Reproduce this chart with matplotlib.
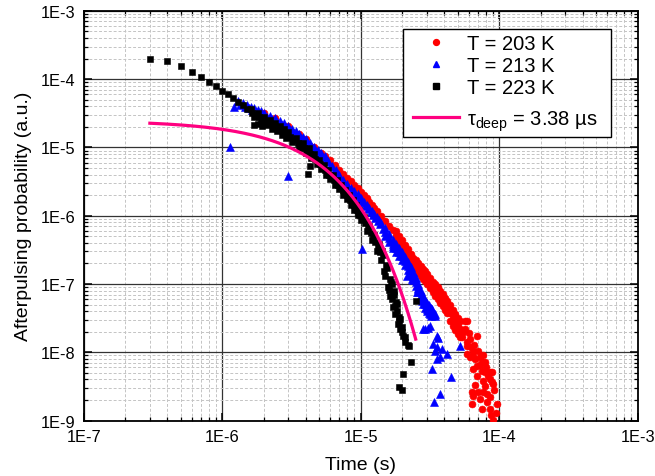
import numpy as np
import matplotlib
matplotlib.use("Agg")
import matplotlib.pyplot as plt
from matplotlib.ticker import LogLocator, FuncFormatter, NullFormatter, FixedLocator
from matplotlib.lines import Line2D
from matplotlib.patches import Rectangle

plt.rcParams['font.family'] = ['Liberation Sans', 'DejaVu Sans']
plt.rcParams['mathtext.fontset'] = 'custom'
plt.rcParams['mathtext.rm'] = 'Liberation Sans'
plt.rcParams['mathtext.it'] = 'Liberation Sans:italic'

# ---- measured afterpulsing histograms (time in microseconds) ----
# T = 203 K : main decay
t203_us = [2.0, 2.4, 3.0, 3.6, 4.0, 4.6, 5.2, 5.5, 6.0, 6.5, 7.0, 7.5, 8.0, 8.5, 9.0, 9.5,
           10, 10.5, 11, 11.5, 12, 12.5, 13, 14, 15, 16, 17]
p203 = [3.22e-5, 2.69e-5, 2.06e-5, 1.56e-5, 1.31e-5, 1.02e-5, 8.17e-6, 7.6e-6, 6.45e-6,
        5.49e-6, 4.72e-6, 4.11e-6, 3.60e-6, 3.18e-6, 2.83e-6, 2.54e-6,
        2.25e-6, 2.0e-6, 1.79e-6, 1.60e-6, 1.44e-6, 1.30e-6, 1.19e-6, 9.93e-7, 8.39e-7,
        7.16e-7, 6.11e-7]
# T = 203 K : late tail (centre / upper / lower spread of the band)
t203_tail_us = [18, 19, 20, 21, 22, 23, 24, 25, 26, 27, 28, 29, 30, 31.5, 33, 34.5, 36,
                37.5, 39, 40.5, 42, 44, 46, 48, 50, 52]
p203_tail_mid = [5.22e-7, 4.41e-7, 3.85e-7, 3.25e-7, 2.84e-7, 2.40e-7, 2.10e-7, 1.90e-7,
                 1.72e-7, 1.55e-7, 1.40e-7, 1.31e-7, 1.18e-7, 1.03e-7, 9.04e-8, 8.17e-8,
                 7.38e-8, 6.45e-8, 5.83e-8, 5.10e-8, 4.61e-8, 3.76e-8, 3.18e-8, 2.78e-8,
                 2.43e-8, 2.19e-8]
p203_tail_hi = [5.97e-7, 5.04e-7, 4.41e-7, 3.72e-7, 3.25e-7, 2.75e-7, 2.40e-7, 2.25e-7,
                2.03e-7, 1.84e-7, 1.66e-7, 1.55e-7, 1.40e-7, 1.22e-7, 1.07e-7, 1.00e-7,
                9.04e-8, 7.90e-8, 7.14e-8, 6.24e-8, 5.64e-8, 4.93e-8, 4.16e-8, 3.64e-8,
                3.18e-8, 2.87e-8]
p203_tail_lo = [4.56e-7, 3.85e-7, 3.37e-7, 2.84e-7, 2.49e-7, 2.10e-7, 1.84e-7, 1.60e-7,
                1.45e-7, 1.31e-7, 1.18e-7, 1.11e-7, 1.00e-7, 8.74e-8, 7.64e-8, 6.67e-8,
                6.03e-8, 5.27e-8, 4.76e-8, 4.16e-8, 3.76e-8, 2.87e-8, 2.43e-8, 2.12e-8,
                1.85e-8, 1.67e-8]
# T = 203 K : scattered counts beyond 50 us
t203_sc_us = [50.6, 55, 56.5, 58.2, 58.2, 61.4, 68.7, 58.2, 58.2, 64.9, 64.9, 72.5, 61.4,
              78.9, 74.6, 68.7, 64.9, 74.6, 85.7, 78.9, 88.1, 76.6, 88.1, 90.5, 63.2, 64.9,
              70.5, 75.9, 81.1, 85.7, 63.2, 74.6, 85.7, 95.8, 90.5,
              54, 57, 60, 62, 66, 70, 67, 72, 76, 80, 83, 86, 79, 69, 92, 95, 87, 82, 73, 67]
p203_sc = [2.75e-8, 1.96e-8, 2.9e-8, 2.9e-8, 1.40e-8, 1.57e-8, 1.75e-8, 1.25e-8, 9.44e-9,
           1.055e-8, 8.92e-9, 8.45e-9, 8.45e-9,
           7.14e-9, 7.14e-9, 6.37e-9, 5.69e-9, 5.38e-9, 5.1e-9, 5.1e-9, 5.1e-9, 3.84e-9,
           3.71e-9, 3.43e-9, 2.6e-9, 2.32e-9,
           2.6e-9, 2.6e-9, 2.45e-9, 2.19e-9, 1.75e-9, 1.48e-9, 1.48e-9, 1.75e-9, 1.03e-9,
           1.7e-8, 2.2e-8, 1.9e-8, 1.2e-8, 1.3e-8, 1.05e-8, 8.0e-9, 6.5e-9, 9.0e-9, 6.0e-9,
           4.5e-9, 4.0e-9, 3.2e-9, 4.5e-9, 2.8e-9, 1.3e-9, 1.2e-9, 1.9e-9, 2.1e-9, 3.3e-9]

# T = 213 K : isolated early counts
t213_iso_us = [1.14, 1.22, 3.0, 10.15]
p213_iso = [1.0e-5, 3.86e-5, 3.85e-6, 3.25e-7]
# T = 213 K : main decay
t213_us = [1.3, 1.4, 1.5, 1.6, 1.7, 1.8, 1.9, 2.0, 2.2, 2.4, 2.6, 2.8, 3.0, 3.2, 3.4, 3.6,
           3.8, 4.0, 4.3, 4.6, 4.9, 5.2, 5.5, 5.8, 6.2, 6.6, 7.0, 7.5, 8.0, 8.5, 9.0, 9.5,
           10, 10.5, 11, 11.5, 12, 12.5, 13, 13.5, 14]
p213 = [4.75e-5, 4.44e-5, 4.18e-5, 3.94e-5, 3.75e-5, 3.56e-5, 3.38e-5, 3.22e-5, 2.93e-5,
        2.69e-5, 2.44e-5, 2.24e-5, 2.06e-5, 1.89e-5, 1.71e-5, 1.56e-5,
        1.42e-5, 1.31e-5, 1.16e-5, 1.02e-5, 9.1e-6, 8.17e-6, 7.38e-6, 6.43e-6, 5.41e-6,
        4.59e-6, 3.94e-6, 3.34e-6, 2.93e-6, 2.58e-6, 2.29e-6, 2.05e-6,
        1.82e-6, 1.61e-6, 1.44e-6, 1.29e-6, 1.17e-6, 1.05e-6, 9.5e-7, 8.56e-7, 7.74e-7]
t213_b_us = [1.35, 1.45, 1.55, 1.65, 1.75, 1.85, 1.95, 2.1, 2.3, 2.5, 2.7, 2.9, 3.1, 3.3,
             3.5, 3.7, 3.9, 4.15, 4.45, 4.75, 5.05, 5.35, 5.65, 6.0, 6.4, 6.8, 7.25, 7.75,
             8.25, 8.75, 9.25, 9.75, 10.25, 10.75, 11.25, 11.75, 12.25, 12.75, 13.25,
             13.75, 14.5]
p213_b = [4.22e-5, 3.96e-5, 3.73e-5, 3.53e-5, 3.36e-5, 3.19e-5, 3.03e-5, 2.82e-5, 2.58e-5,
          2.35e-5, 2.15e-5, 1.97e-5, 1.81e-5, 1.65e-5, 1.50e-5, 1.37e-5, 1.25e-5, 1.13e-5,
          1.00e-5, 8.85e-6, 7.92e-6, 7.14e-6, 6.33e-6, 5.42e-6, 4.58e-6, 3.91e-6, 3.33e-6,
          2.87e-6, 2.53e-6, 2.23e-6, 1.99e-6, 1.78e-6, 1.57e-6, 1.40e-6, 1.25e-6, 1.13e-6,
          1.02e-6, 9.18e-7, 8.29e-7, 7.48e-7, 6.45e-7]
# T = 213 K : late tail band
t213_tail_us = [15, 16, 17, 18, 19, 20, 21, 22, 23, 24, 25, 26, 27, 28, 29, 30, 31, 32]
p213_tail_mid = [5.77e-7, 4.72e-7, 3.85e-7, 3.37e-7, 2.94e-7, 2.57e-7, 2.17e-7, 1.84e-7,
                 1.55e-7, 1.31e-7, 1.07e-7, 8.74e-8, 6.90e-8, 5.83e-8, 5.10e-8, 4.61e-8,
                 4.30e-8, 3.89e-8]
p213_tail_hi = [6.61e-7, 5.40e-7, 4.41e-7, 3.85e-7, 3.37e-7, 2.94e-7, 2.49e-7, 2.10e-7,
                1.77e-7, 1.50e-7, 1.22e-7, 1.00e-7, 7.90e-8, 6.67e-8, 5.83e-8, 5.27e-8,
                4.93e-8, 4.45e-8]
p213_tail_lo = [5.04e-7, 4.12e-7, 3.37e-7, 2.94e-7, 2.57e-7, 2.25e-7, 1.90e-7, 1.60e-7,
                1.35e-7, 1.14e-7, 9.35e-8, 7.64e-8, 6.03e-8, 5.10e-8, 4.45e-8, 4.02e-8,
                3.76e-8, 3.40e-8]
# T = 213 K : scattered counts
t213_sc_us = [17.2, 19.7, 21.45, 22.65, 23.3, 25.3, 26.0, 26.8, 27.5, 29.1, 29.9, 32.5,
              31.6, 34.3, 34.3, 29.1, 28.3, 30.7, 31.6, 35.3, 36.3, 33.4, 35.3, 38.4, 34.3,
              41.7, 37.3, 35.3, 32.5, 44.6, 37.3, 33.8, 52.0]
p213_sc = [3.6e-7, 2.75e-7, 1.31e-7, 1.66e-7, 1.19e-7, 7.6e-8, 8.45e-8, 6.0e-8, 5.7e-8,
           5.45e-8, 4.3e-8, 4.3e-8, 3.64e-8, 3.64e-8, 3.44e-8, 2.2e-8, 2.2e-8, 2.3e-8,
           2.45e-8, 1.75e-8, 1.6e-8, 1.32e-8, 1.18e-8, 1.12e-8, 1.05e-8, 9.4e-9, 8.45e-9,
           8.0e-9, 5.7e-9, 4.3e-9, 2.45e-9, 1.9e-9, 1.25e-8]

# T = 223 K : main decay
t223_us = [0.3, 0.4, 0.5, 0.6, 0.7, 0.8, 0.9, 1.0, 1.1, 1.2, 1.3, 1.4, 1.5,
           1.6, 1.7, 1.8, 1.9, 2.0, 2.1, 2.2, 2.3, 2.4, 2.5, 2.6, 2.7, 2.8, 2.9, 3.0,
           3.2, 3.4, 3.6, 3.8, 4.0, 4.2, 4.4, 4.6, 4.8, 5.0, 5.2, 5.4, 5.6, 5.8, 6.0,
           6.25, 6.5, 6.75, 7.0, 7.25, 7.5, 7.75, 8.0, 8.25, 8.5, 8.75, 9.0, 9.25, 9.5,
           9.75, 10.0, 10.5, 11.0, 11.5, 12.0, 12.5, 13.0, 13.5, 14.0, 14.5, 15.0, 15.5,
           16.0, 16.5, 17.0, 17.5]
p223 = [1.97e-4, 1.82e-4, 1.54e-4, 1.28e-4, 1.07e-4, 9.07e-5, 7.84e-5, 6.76e-5, 5.99e-5,
        5.24e-5, 4.62e-5, 4.11e-5, 3.65e-5,
        3.71e-5, 2.76e-5, 3.24e-5, 2.39e-5, 2.83e-5, 2.11e-5, 2.53e-5, 1.89e-5, 2.28e-5,
        1.71e-5, 2.05e-5, 1.53e-5, 1.85e-5, 1.39e-5, 1.68e-5,
        1.20e-5, 1.37e-5, 9.86e-6, 1.15e-5, 8.42e-6, 9.64e-6, 6.88e-6, 7.93e-6, 5.73e-6,
        6.65e-6, 4.78e-6, 5.53e-6, 4.00e-6, 4.65e-6, 3.39e-6,
        3.93e-6, 2.84e-6, 3.32e-6, 2.42e-6, 2.81e-6, 2.03e-6, 2.37e-6, 1.73e-6, 2.00e-6,
        1.45e-6, 1.69e-6, 1.23e-6, 1.43e-6, 1.04e-6,
        1.21e-6, 8.65e-7, 9.54e-7, 5.99e-7, 7.16e-7, 4.41e-7, 5.22e-7, 3.05e-7, 3.90e-7,
        2.25e-7, 2.62e-7, 1.33e-7, 1.70e-7,
        8.17e-8, 1.08e-7, 4.54e-8, 6.95e-8]
t223_b_us = [1.65, 1.75, 1.85, 1.95, 2.05, 2.15, 2.25, 2.35, 2.45, 2.55, 2.65, 2.75, 2.85,
             2.95, 3.1, 3.3, 3.5, 3.7, 3.9, 4.1, 4.3, 4.5, 4.7, 4.9, 5.1, 5.3, 5.5, 5.7,
             5.9, 6.1, 6.4, 6.6, 6.9, 7.1, 7.4, 7.6, 7.9, 8.1, 8.4, 8.6, 8.9, 9.1, 9.4,
             9.6, 9.9, 10.25, 10.75, 11.25, 11.75, 12.25, 12.75, 13.25, 13.75]
p223_b = [3.23e-5, 2.99e-5, 2.79e-5, 2.60e-5, 2.44e-5, 2.31e-5, 2.19e-5, 2.07e-5, 1.97e-5,
          1.87e-5, 1.77e-5, 1.69e-5, 1.60e-5, 1.53e-5, 1.42e-5, 1.28e-5, 1.16e-5, 1.07e-5,
          9.83e-6, 9.01e-6, 8.14e-6, 7.38e-6, 6.74e-6, 6.17e-6, 5.64e-6, 5.15e-6, 4.70e-6,
          4.32e-6, 3.97e-6, 3.67e-6, 3.31e-6, 3.09e-6, 2.81e-6, 2.62e-6, 2.36e-6, 2.21e-6,
          2.00e-6, 1.87e-6, 1.69e-6, 1.58e-6, 1.43e-6, 1.34e-6, 1.21e-6, 1.13e-6, 1.02e-6,
          9.07e-7, 7.69e-7, 6.54e-7, 5.62e-7, 4.80e-7, 4.06e-7, 3.46e-7, 2.97e-7]
# T = 223 K : isolated counts and late tail
t223_sc_us = [1.70, 1.80, 1.92, 4.18, 4.28,
              14.25, 14.75, 15.25, 15.75, 16.25, 16.75, 17.25, 17.75, 18.25, 18.75, 19.25,
              16.3, 17.7, 18.3, 18.8, 19.2, 19.7, 20.0, 20.3, 20.8, 22.0, 21.0, 22.4, 23.0,
              20.3, 19.0, 19.7, 25.1, 18.0, 17.0, 16.8, 18.5]
p223_sc = [2.13e-5, 2.20e-5, 2.06e-5, 4.08e-6, 5.4e-6,
           3.05e-7, 1.55e-7, 1.90e-7, 9.04e-8, 1.18e-7, 6.03e-8, 7.90e-8, 3.64e-8, 5.10e-8,
           2.87e-8, 2.19e-8,
           6.7e-8, 4.8e-8, 4.0e-8, 3.3e-8, 3.07e-8, 2.32e-8, 1.96e-8, 1.75e-8, 1.40e-8,
           1.28e-8, 1.66e-8, 1.25e-8, 7.1e-9,
           4.8e-9, 3.07e-9, 2.83e-9, 5.7e-8, 5.5e-8, 7.5e-8, 1.0e-7, 2.6e-8]

# single-exponential trap-release fit
tau_deep = 3.38e-6          # s
fit_amp = 2.47e-5
fit_t_start, fit_t_end = 3.0e-7, 2.49e-5

# axis decades
x_ticks = [1e-7, 1e-6, 1e-5, 1e-4, 1e-3]
y_ticks = [1e-9, 1e-8, 1e-7, 1e-6, 1e-5, 1e-4, 1e-3]

t_203 = t203_us + t203_tail_us * 3 + t203_sc_us
p_203 = p203 + p203_tail_mid + p203_tail_hi + p203_tail_lo + p203_sc
t_213 = t213_iso_us + t213_us + t213_b_us + t213_tail_us * 3 + t213_sc_us
p_213 = p213_iso + p213 + p213_b + p213_tail_mid + p213_tail_hi + p213_tail_lo + p213_sc
t_223 = t223_us + t223_b_us + t223_sc_us
p_223 = p223 + p223_b + p223_sc

series = [
    (t_203, p_203, 'T = 203 K', 'o', '#ff0000', 5.0),
    (t_213, p_213, 'T = 213 K', '^', '#0000ff', 5.4),
    (t_223, p_223, 'T = 223 K', 's', '#000000', 4.3),
]
fit_color = '#ff0080'
fit_label = r'τ$_{\mathrm{deep}}$ = 3.38 µs'

fig = plt.figure(figsize=(6.55, 4.77), dpi=100)
ax = fig.add_axes([0.12794, 0.11614, 0.84580, 0.85912])
ax.set_xscale('log')
ax.set_yscale('log')
ax.set_xlim(x_ticks[0], x_ticks[-1])
ax.set_ylim(y_ticks[0], y_ticks[-1])

for t_us, p, label, mk, col, ms in series:
    ax.plot(np.asarray(t_us) * 1e-6, p, ls='none', marker=mk, ms=ms,
            color=col, mec=col, mew=0.4, zorder=3)

t_fit = np.logspace(np.log10(fit_t_start), np.log10(fit_t_end), 300)
ax.plot(t_fit, fit_amp * np.exp(-t_fit / tau_deep), color=fit_color, lw=2.3, zorder=4)

# axes, ticks and grid
ax.xaxis.set_major_locator(FixedLocator(x_ticks))
ax.yaxis.set_major_locator(FixedLocator(y_ticks))
for axis in (ax.xaxis, ax.yaxis):
    axis.set_minor_locator(LogLocator(base=10, subs=np.arange(2, 10), numticks=30))
    axis.set_minor_formatter(NullFormatter())
fmt = FuncFormatter(lambda v, pos: '1E%d' % int(round(np.log10(v))))
ax.xaxis.set_major_formatter(fmt)
ax.yaxis.set_major_formatter(fmt)

ax.grid(which='major', color='#333333', lw=0.9, ls='-')
ax.grid(which='minor', color='#c4c4c4', lw=0.7, ls=(0, (3, 2)))
ax.set_axisbelow(True)
ax.tick_params(which='both', direction='in', top=True, right=True, labelsize=11.8,
               color='black')
ax.tick_params(which='major', length=6, width=1.1, pad=6)
ax.tick_params(which='minor', length=3, width=0.9)
for sp in ax.spines.values():
    sp.set_linewidth(1.3)

ax.set_xlabel('Time (s)', fontsize=14, labelpad=9)
ax.set_ylabel('Afterpulsing probability (a.u.)', fontsize=14, labelpad=6)

# legend: boxed panel in the upper right of the plot area
ax.add_patch(Rectangle((0.5762, 0.6920), 0.3754, 0.2635, transform=ax.transAxes,
                       facecolor='white', edgecolor='black', lw=1.0, zorder=5))
handles = [Line2D([], [], ls='none', marker=mk, ms=ms * 0.85, color=col, mec=col)
           for _, _, _, mk, col, ms in series]
leg_kw = dict(fontsize=14.5, frameon=False, handlelength=2.3, handletextpad=0.4,
              borderpad=0.3, borderaxespad=0)
leg1 = ax.legend(handles, [s[2] for s in series], loc='upper left',
                 bbox_to_anchor=(0.5834, 0.958), labelspacing=0.15, **leg_kw)
leg1.set_zorder(6)
ax.add_artist(leg1)
leg2 = ax.legend([Line2D([], [], color=fit_color, lw=2.3)], [fit_label],
                 loc='upper left', bbox_to_anchor=(0.5834, 0.7775), **leg_kw)
leg2.set_zorder(6)

fig.savefig('out.png', dpi=100)
